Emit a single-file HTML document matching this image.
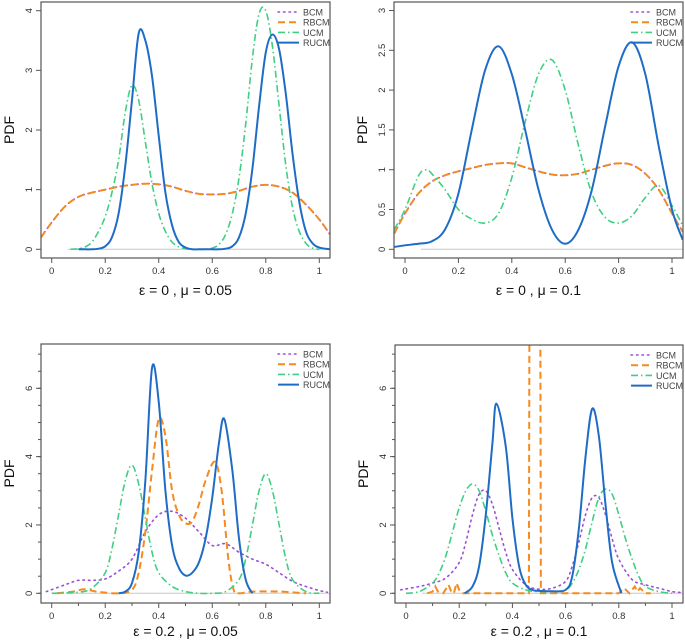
<!DOCTYPE html>
<html><head><meta charset="utf-8"><style>
html,body{margin:0;padding:0;background:#fff}
svg{display:block;font-family:"Liberation Sans",sans-serif}
</style></head><body>
<svg id="chart" width="685" height="641" viewBox="0 0 685 641" xmlns="http://www.w3.org/2000/svg"></svg>
<script>
// ---------- Panel 1 data (eps=0, mu=0.05) ----------
const p1RucmX=[0.1,0.125,0.15,0.175,0.2,0.225,0.25,0.275,0.3,0.325,0.35,0.375,0.4,0.425,0.45,0.475,0.5,0.525,0.55,0.575,0.6,0.625,0.65,0.675,0.7,0.725,0.75,0.775,0.8,0.825,0.85,0.875,0.9,0.925,0.95,0.975,1,1.04];
const p1RucmY=[0,0,0,0.01,0.05,0.2,0.6,1.4,2.5,3.62,3.5,2.9,1.9,0.95,0.4,0.12,0.03,0,0,0,0,0,0.01,0.05,0.2,0.6,1.35,2.4,3.3,3.6,3.35,2.6,1.6,0.8,0.3,0.1,0.03,0];
const p1UcmX=[0.07,0.1,0.125,0.15,0.175,0.2,0.225,0.25,0.275,0.3,0.325,0.35,0.375,0.4,0.425,0.45,0.475,0.5,0.525,0.55,0.575,0.6,0.625,0.65,0.675,0.7,0.725,0.75,0.775,0.8,0.825,0.85,0.875,0.9,0.925,0.95,0.975,1];
const p1UcmY=[0,0.01,0.04,0.12,0.3,0.55,0.95,1.5,2.3,2.75,2.5,1.8,1.1,0.6,0.3,0.12,0.04,0.01,0,0,0,0.02,0.08,0.25,0.6,1.2,2.1,3.2,3.95,4.0,3.4,2.4,1.4,0.7,0.3,0.1,0.02,0];
const p1RbcmX=[-0.04,0,0.05,0.1,0.15,0.2,0.25,0.3,0.35,0.4,0.45,0.5,0.55,0.6,0.65,0.7,0.75,0.8,0.85,0.9,0.95,1,1.04];
const p1RbcmY=[0.2,0.45,0.72,0.88,0.95,1.0,1.05,1.08,1.1,1.09,1.05,0.98,0.93,0.92,0.93,0.98,1.05,1.08,1.05,0.95,0.75,0.5,0.25];
const p1BcmX=p1RbcmX;
const p1BcmY=p1RbcmY;
// ---------- Panel 2 data (eps=0, mu=0.1) ----------
const p2RucmX=[-0.04,0,0.05,0.1,0.15,0.2,0.25,0.3,0.35,0.4,0.45,0.5,0.55,0.6,0.65,0.7,0.75,0.8,0.85,0.9,0.95,1,1.04];
const p2RucmY=[0.03,0.05,0.07,0.1,0.25,0.7,1.5,2.25,2.55,2.2,1.5,0.75,0.25,0.07,0.25,0.75,1.55,2.3,2.6,2.2,1.3,0.5,0.12];
const p2UcmX=[-0.04,0,0.05,0.08,0.1,0.15,0.2,0.25,0.3,0.35,0.4,0.45,0.5,0.55,0.6,0.65,0.7,0.75,0.8,0.85,0.9,0.95,1,1.04];
const p2UcmY=[0.25,0.5,0.92,1.0,0.95,0.75,0.5,0.38,0.33,0.45,0.9,1.6,2.2,2.38,2.0,1.3,0.7,0.4,0.33,0.42,0.65,0.8,0.55,0.3];
const p2RbcmX=[-0.04,0,0.05,0.1,0.15,0.2,0.25,0.3,0.35,0.4,0.45,0.5,0.55,0.6,0.65,0.7,0.75,0.8,0.85,0.9,0.95,1,1.04];
const p2RbcmY=[0.2,0.45,0.7,0.85,0.93,0.98,1.02,1.06,1.08,1.08,1.03,0.98,0.94,0.93,0.95,1.0,1.05,1.08,1.06,0.95,0.75,0.45,0.22];
const p2BcmX=p2RbcmX;
const p2BcmY=p2RbcmY;
// ---------- Panel 3 data (eps=0.2, mu=0.05) ----------
const p3RucmX=[0.25,0.275,0.3,0.325,0.35,0.375,0.4,0.425,0.45,0.475,0.5,0.525,0.55,0.575,0.6,0.625,0.645,0.675,0.7,0.725,0.75];
const p3RucmY=[0,0.05,0.3,1.2,3.3,6.6,5.6,3.0,1.4,0.75,0.52,0.6,0.9,1.6,2.8,4.4,5.1,3.6,1.6,0.4,0];
const p3RbcmX=[0.02,0.08,0.12,0.16,0.2,0.25,0.3,0.325,0.35,0.375,0.4,0.425,0.45,0.475,0.5,0.525,0.55,0.575,0.61,0.635,0.66,0.68,0.7,0.75,0.85,0.95];
const p3RbcmY=[0,0.05,0.12,0.06,0.02,0,0.1,0.6,1.8,3.6,5.1,4.6,3.0,2.3,2.05,2.1,2.6,3.3,3.85,3.0,1.0,0.1,0,0.05,0.05,0];
const p3UcmX=[0,0.1,0.15,0.2,0.225,0.25,0.275,0.3,0.325,0.35,0.375,0.4,0.45,0.5,0.55,0.6,0.65,0.7,0.725,0.75,0.775,0.8,0.825,0.85,0.875,0.9,0.95,1];
const p3UcmY=[0,0.03,0.15,0.6,1.3,2.3,3.3,3.75,3.2,2.2,1.2,0.6,0.2,0.05,0,0,0.05,0.4,1.0,2.0,3.0,3.5,3.0,2.0,1.0,0.4,0.05,0];
const p3BcmX=[-0.02,0.05,0.1,0.15,0.2,0.25,0.3,0.35,0.4,0.45,0.5,0.55,0.6,0.65,0.7,0.75,0.8,0.85,0.9,0.95,1,1.03];
const p3BcmY=[0.05,0.25,0.38,0.38,0.42,0.65,1.0,1.8,2.3,2.4,2.2,1.8,1.4,1.45,1.2,1.0,0.85,0.6,0.35,0.2,0.08,0.03];
// ---------- Panel 4 data (eps=0.2, mu=0.1) ----------
const p4RucmX=[0.22,0.25,0.275,0.3,0.325,0.34,0.375,0.4,0.425,0.45,0.475,0.5,0.55,0.6,0.625,0.65,0.675,0.7,0.725,0.75,0.775,0.81];
const p4RucmY=[0,0.2,0.8,2.3,4.4,5.55,4.3,2.2,0.8,0.25,0.1,0.07,0.06,0.1,0.5,1.9,4.0,5.4,4.6,2.6,0.9,0];
const p4UcmX=[0,0.05,0.1,0.125,0.15,0.175,0.2,0.225,0.25,0.275,0.3,0.325,0.35,0.375,0.4,0.45,0.5,0.55,0.6,0.625,0.65,0.675,0.7,0.725,0.75,0.775,0.8,0.825,0.85,0.875,0.9,0.95,1];
const p4UcmY=[0,0.05,0.3,0.6,1.1,1.8,2.5,3.0,3.2,3.0,2.4,1.7,1.1,0.6,0.3,0.1,0.05,0.05,0.1,0.3,0.7,1.3,2.1,2.8,3.05,2.9,2.3,1.6,1.0,0.5,0.2,0.05,0];
const p4BcmX=[-0.02,0.05,0.1,0.15,0.2,0.225,0.25,0.275,0.3,0.325,0.35,0.375,0.4,0.45,0.5,0.55,0.6,0.625,0.65,0.675,0.7,0.725,0.75,0.775,0.8,0.85,0.9,0.95,1,1.04];
const p4BcmY=[0.1,0.2,0.3,0.45,0.9,1.5,2.3,2.9,3.0,2.6,1.9,1.2,0.7,0.25,0.12,0.15,0.35,0.8,1.5,2.3,2.8,2.8,2.3,1.6,1.0,0.4,0.25,0.15,0.05,0.02];
const p4RbcmX=[0.08,0.1,0.11,0.12,0.14,0.16,0.17,0.18,0.19,0.2,0.21,0.22,0.462,0.467,0.502,0.507,0.8,0.82,0.84,0.86,0.87,0.88,0.9,0.92];
const p4RbcmY=[0,0.05,0.2,0.05,0,0.25,0.05,0,0.3,0.1,0,0,0,20,20,0,0,0.15,0,0.2,0.05,0.15,0,0];
// tick values
const xTicks=[0,0.2,0.4,0.6,0.8,1];
const xTickLabels=["0","0.2","0.4","0.6","0.8","1"];
const p1YTicks=[0,1,2,3,4];
const p1YLabels=["0","1","2","3","4"];
const p2YTicks=[0,0.5,1,1.5,2,2.5,3];
const p2YLabels=["0","0.5","1","1.5","2","2.5","3"];
const p34YTicks=[0,2,4,6];
const p34YLabels=["0","2","4","6"];

const NS="http://www.w3.org/2000/svg";
const svg=document.getElementById('chart');
function mk(tag,attrs,parent){const e=document.createElementNS(NS,tag);for(const k in attrs)e.setAttribute(k,attrs[k]);(parent||svg).appendChild(e);return e;}
const COL={BCM:"#9b4fd6",RBCM:"#f58a1f",UCM:"#3fcf82",RUCM:"#1f6cc7"};
const DASH={BCM:"1.5 4",RBCM:"7 4",UCM:"7 3 1.5 3",RUCM:""};
const WID={BCM:1.6,RBCM:2,UCM:1.6,RUCM:2};

function smoothPath(pts){
  let d="M"+pts[0][0].toFixed(2)+","+pts[0][1].toFixed(2);
  for(let i=0;i<pts.length-1;i++){
    const p0=pts[Math.max(0,i-1)],p1=pts[i],p2=pts[i+1],p3=pts[Math.min(pts.length-1,i+2)];
    const c1x=p1[0]+(p2[0]-p0[0])/6,c1y=p1[1]+(p2[1]-p0[1])/6;
    const c2x=p2[0]-(p3[0]-p1[0])/6,c2y=p2[1]-(p3[1]-p1[1])/6;
    d+=" C"+c1x.toFixed(2)+","+c1y.toFixed(2)+" "+c2x.toFixed(2)+","+c2y.toFixed(2)+" "+p2[0].toFixed(2)+","+p2[1].toFixed(2);
  }
  return d;
}
function linPath(pts){return pts.map((p,i)=>(i?"L":"M")+p[0].toFixed(2)+","+p[1].toFixed(2)).join(" ");}

function panel(cfg){
  const g=mk('g',{});
  
  
  const [L,T,R,B]=cfg.box;
  const sx=v=>cfg.x0+(cfg.x1-cfg.x0)*v;
  const sy=v=>cfg.y0-(cfg.y0-cfg.yRefPx)/cfg.yRef*v;
  const cid='clip-'+cfg.name;
  const cp=mk('clipPath',{id:cid},g);
  mk('rect',{x:L,y:T,width:R-L,height:B-T},cp);
  const zero=mk('line',{x1:sx(0.06),x2:R,y1:sy(0),y2:sy(0),stroke:"#c8c8c8","stroke-width":1},g);
  
  
  const sg=mk('g',{"clip-path":"url(#"+cid+")"},g);
  cfg.series.forEach(s=>{
    const pts=s.x.map((v,i)=>[sx(v),sy(s.y[i])]);
    const p=mk('path',{d:s.linear?linPath(pts):smoothPath(pts),fill:"none",stroke:COL[s.k],"stroke-width":WID[s.k],"stroke-dasharray":DASH[s.k],"stroke-linecap":s.k==="BCM"?"round":"butt"},sg);
    
    
  });
  const frame=mk('rect',{x:L,y:T,width:R-L,height:B-T,fill:"none",stroke:"#555","stroke-width":1.2},g);
  
  
  xTicks.forEach((v,i)=>{
    mk('line',{x1:sx(v),x2:sx(v),y1:B,y2:B+5,stroke:"#555"},g);
    const t=mk('text',{x:sx(v),y:B+16,"font-size":9.5,"text-anchor":"middle",fill:"#333"},g);
    t.textContent=xTickLabels[i];
    
    
  });
  if(cfg.minor){for(let v=0.1;v<1.05;v+=0.2)mk('line',{x1:sx(v),x2:sx(v),y1:B,y2:B+3,stroke:"#555"},g);
    for(let v=0;sy(v)>T;v+=0.5)mk('line',{x1:L,x2:L-3,y1:sy(v),y2:sy(v),stroke:"#555"},g);}
  cfg.yt.forEach((v,i)=>{
    mk('line',{x1:L,x2:L-5,y1:sy(v),y2:sy(v),stroke:"#555"},g);
    const t=mk('text',{x:L-9,y:sy(v),"font-size":9.5,"text-anchor":"middle",fill:"#333",transform:"rotate(-90 "+(L-9)+" "+sy(v)+")"},g);
    t.textContent=cfg.yl[i];
    
    
  });
  const yl=mk('text',{x:L-27,y:(T+B)/2,"font-size":14,"text-anchor":"middle",fill:"#111",transform:"rotate(-90 "+(L-27)+" "+((T+B)/2)+")"},g);
  yl.textContent="PDF";
  
  
  const tt=mk('text',{x:(L+R)/2,y:cfg.titleY,"font-size":14,"text-anchor":"middle",fill:"#111"},g);
  tt.textContent=cfg.title;
  
  
  ["BCM","RBCM","UCM","RUCM"].forEach((k,i)=>{
    const y=T+10+i*10.2;
    const lg=mk('g',{},g);
    
    
    mk('line',{x1:R-52,x2:R-31,y1:y,y2:y,stroke:COL[k],"stroke-width":WID[k],"stroke-dasharray":DASH[k],"stroke-linecap":k==="BCM"?"round":"butt"},lg);
    const t=mk('text',{x:R-27,y:y+3.5,"font-size":9,fill:"#444"},lg);
    t.textContent=k;
  });
}
panel({name:'panel-eps0-mu005',box:[41,2,330,258],x0:51.7,x1:319.3,y0:249.3,yRef:4,yRefPx:10.7,yt:p1YTicks,yl:p1YLabels,title:"ε = 0 ,  μ =  0.05",titleY:295,
  series:[{k:'BCM',x:p1BcmX,y:p1BcmY},{k:'RBCM',x:p1RbcmX,y:p1RbcmY},{k:'UCM',x:p1UcmX,y:p1UcmY},{k:'RUCM',x:p1RucmX,y:p1RucmY}]});
panel({name:'panel-eps0-mu01',box:[394,2,683,258],x0:405,x1:672,y0:249.3,yRef:3,yRefPx:10.5,yt:p2YTicks,yl:p2YLabels,title:"ε = 0 ,  μ =  0.1",titleY:295,
  series:[{k:'BCM',x:p2BcmX,y:p2BcmY},{k:'RBCM',x:p2RbcmX,y:p2RbcmY},{k:'UCM',x:p2UcmX,y:p2UcmY},{k:'RUCM',x:p2RucmX,y:p2RucmY}]});
panel({name:'panel-eps02-mu005',box:[41,344,330,603],x0:51.7,x1:319.3,y0:593.3,yRef:6,yRefPx:388.3,yt:p34YTicks,yl:p34YLabels,minor:true,title:"ε = 0.2 ,  μ =  0.05",titleY:636,
  series:[{k:'BCM',x:p3BcmX,y:p3BcmY},{k:'RBCM',x:p3RbcmX,y:p3RbcmY},{k:'UCM',x:p3UcmX,y:p3UcmY},{k:'RUCM',x:p3RucmX,y:p3RucmY}]});
panel({name:'panel-eps02-mu01',box:[395,345,683,603],x0:406,x1:672,y0:593.3,yRef:6,yRefPx:388.3,yt:p34YTicks,yl:p34YLabels,minor:true,title:"ε = 0.2 ,  μ =  0.1",titleY:636,
  series:[{k:'BCM',x:p4BcmX,y:p4BcmY},{k:'RBCM',x:p4RbcmX,y:p4RbcmY,linear:true},{k:'UCM',x:p4UcmX,y:p4UcmY},{k:'RUCM',x:p4RucmX,y:p4RucmY}]});
</script>
</body></html>
